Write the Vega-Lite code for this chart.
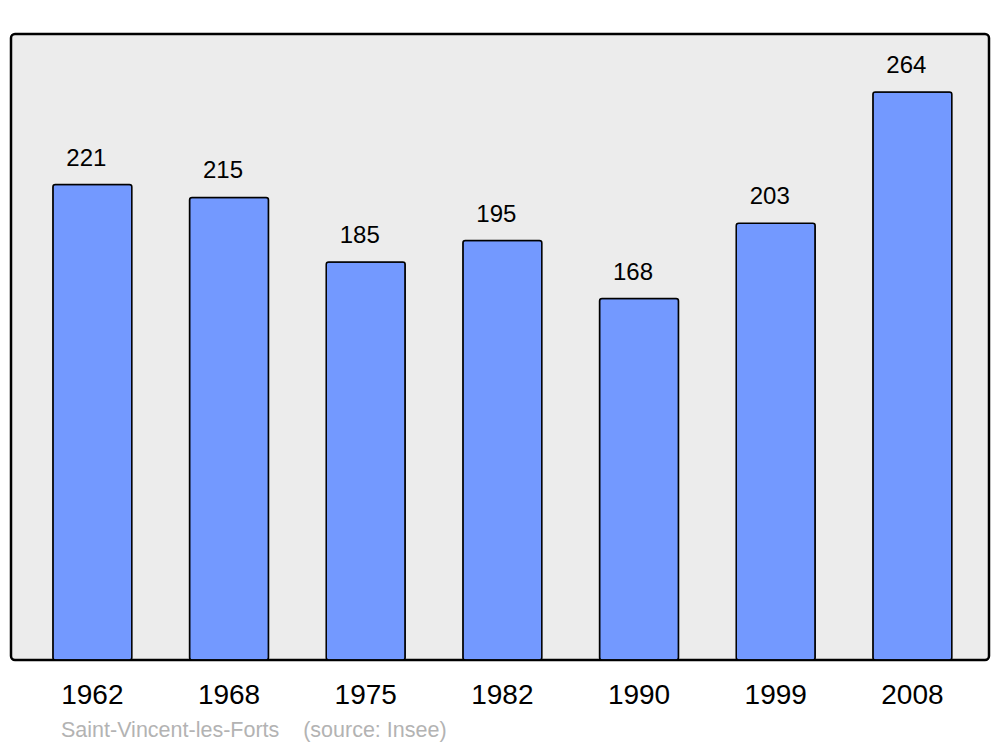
{
  "$schema": "https://vega.github.io/schema/vega-lite/v6.json",
  "width": 978,
  "height": 626,
  "autosize": {"type": "none"},
  "padding": {"left": 11, "top": 34, "right": 11, "bottom": 87},
  "background": "white",
  "title": {
    "text": "Saint-Vincent-les-Forts\u00a0\u00a0\u00a0\u00a0(source: Insee)",
    "orient": "bottom",
    "anchor": "start",
    "dx": 50,
    "offset": 28,
    "font": "Liberation Sans",
    "fontSize": 21.5,
    "fontWeight": "normal",
    "color": "#b3b3b3",
    "baseline": "alphabetic"
  },
  "data": {
    "values": [
      {"year": "1962", "pop": 221},
      {"year": "1968", "pop": 215},
      {"year": "1975", "pop": 185},
      {"year": "1982", "pop": 195},
      {"year": "1990", "pop": 168},
      {"year": "1999", "pop": 203},
      {"year": "2008", "pop": 264}
    ]
  },
  "encoding": {
    "x": {
      "field": "year",
      "type": "ordinal",
      "sort": null,
      "scale": {"paddingInner": 0.422, "paddingOuter": 0.289, "align": 0.53},
      "axis": {
        "title": null,
        "domain": false,
        "ticks": false,
        "labelAngle": 0,
        "labelFont": "Liberation Sans",
        "labelFontSize": 28,
        "labelColor": "black",
        "labelPadding": 21,
        "labelBaseline": "top"
      }
    },
    "y": {
      "field": "pop",
      "type": "quantitative",
      "scale": {"domain": [0, 291], "nice": false, "zero": true},
      "axis": null
    }
  },
  "layer": [
    {
      "mark": {"type": "bar", "fill": "#7399ff", "stroke": "black", "strokeWidth": 1.5, "cornerRadius": 2.5}
    },
    {
      "mark": {"type": "text", "baseline": "alphabetic", "align": "center", "dy": -19, "dx": -6, "font": "Liberation Sans", "fontSize": 24, "color": "black"},
      "encoding": {"text": {"field": "pop", "type": "quantitative"}}
    }
  ],
  "config": {
    "view": {"stroke": "black", "strokeWidth": 2.5, "fill": "#ececec", "cornerRadius": 4}
  }
}
